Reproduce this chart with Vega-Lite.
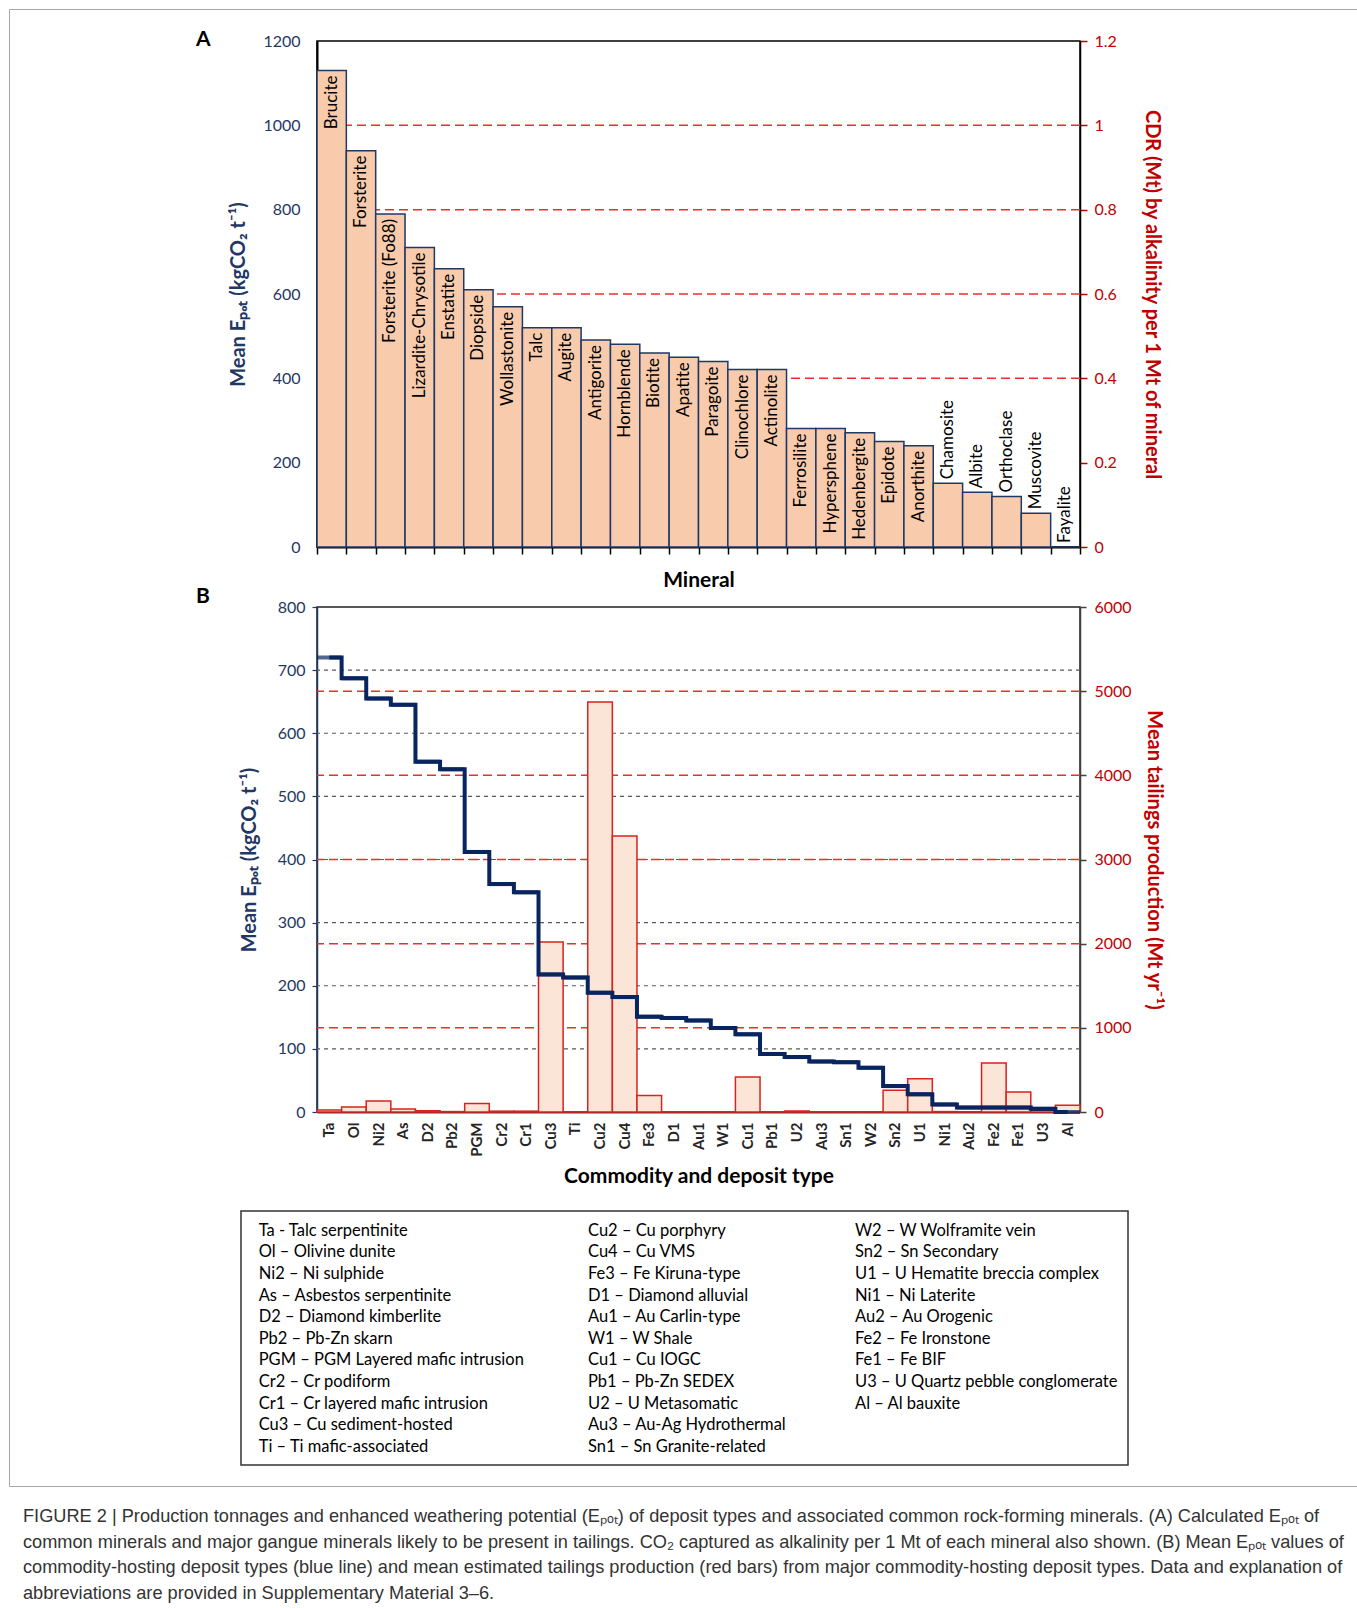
{
  "$schema": "https://vega.github.io/schema/vega-lite/v6.json",
  "padding": {"left": 8, "top": 8, "right": 0, "bottom": 0},
  "autosize": {"type": "pad"},
  "background": "white",
  "config": {"font": "Lato", "view": {"stroke": null}},
  "bounds": "flush",
  "align": "none",
  "spacing": -1445,
  "vconcat": [
    {
      "width": 1348,
      "height": 1477,
      "view": {"stroke": "#a6a6a6", "strokeWidth": 1},
      "title": {
        "text": [
          "FIGURE 2 | Production tonnages and enhanced weathering potential (Eₚₒₜ) of deposit types and associated common rock-forming minerals. (A) Calculated Eₚₒₜ of",
          "common minerals and major gangue minerals likely to be present in tailings. CO₂ captured as alkalinity per 1 Mt of each mineral also shown. (B) Mean Eₚₒₜ values of",
          "commodity-hosting deposit types (blue line) and mean estimated tailings production (red bars) from major commodity-hosting deposit types. Data and explanation of",
          "abbreviations are provided in Supplementary Material 3–6."
        ],
        "orient": "bottom",
        "anchor": "start",
        "frame": "group",
        "dx": 14,
        "offset": 22,
        "font": "Liberation Sans",
        "fontSize": 18.2,
        "fontWeight": "normal",
        "color": "#333333",
        "lineHeight": 25.5,
        "baseline": "top"
      },
      "data": {"values": [{"t": ""}]},
      "mark": {"type": "text"},
      "encoding": {"text": {"field": "t"}}
    },
    {
      "align": "none",
      "spacing": -7,
      "vconcat": [
        {
          "bounds": "flush",
          "align": "none",
          "spacing": 0,
          "hconcat": [
            {"width": 308, "height": 506, "view": {"fill": "transparent"}, "data": {"values": [{"t": ""}]}, "mark": "text", "encoding": {"text": {"field": "t"}}},
            {
              "width": 763,
              "height": 506,
              "view": {"stroke": "#000", "strokeWidth": 1.5},
              "title": {"text": "A", "anchor": "start", "frame": "group", "dx": -121, "dy": 17, "offset": 0, "fontSize": 21, "fontWeight": "bold", "color": "#000"},
              "layer": [
                {
                  "data": {"values": [{"cdr": 0.4}, {"cdr": 0.6}, {"cdr": 0.8}, {"cdr": 1.0}]},
                  "mark": {"type": "rule", "color": "#e8302a", "strokeWidth": 1.5, "strokeDash": [9, 5]},
                  "encoding": {
                    "y": {
                      "field": "cdr", "type": "quantitative",
                      "scale": {"domain": [0, 1.2], "nice": false},
                      "axis": {
                        "orient": "right", "values": [0, 0.2, 0.4, 0.6, 0.8, 1, 1.2], "format": "~g", "grid": false,
                        "labelColor": "#c00000", "labelFontSize": 16, "labelPadding": 7,
                        "tickColor": "#c00000", "tickSize": 7, "tickWidth": 1.5,
                        "domainColor": "#000", "domainWidth": 1.5,
                        "title": "CDR (Mt) by alkalinity per 1 Mt of mineral",
                        "titleColor": "#c00000", "titleFontSize": 20, "titleFontWeight": "bold", "titlePadding": 25
                      }
                    }
                  }
                },
                {
                  "data": {"values": [
                    {"mineral": "Brucite", "epot": 1130},
                    {"mineral": "Forsterite", "epot": 940},
                    {"mineral": "Forsterite (Fo88)", "epot": 790},
                    {"mineral": "Lizardite-Chrysotile", "epot": 710},
                    {"mineral": "Enstatite", "epot": 660},
                    {"mineral": "Diopside", "epot": 610},
                    {"mineral": "Wollastonite", "epot": 570},
                    {"mineral": "Talc", "epot": 520},
                    {"mineral": "Augite", "epot": 520},
                    {"mineral": "Antigorite", "epot": 491},
                    {"mineral": "Hornblende", "epot": 481},
                    {"mineral": "Biotite", "epot": 460},
                    {"mineral": "Apatite", "epot": 450},
                    {"mineral": "Paragoite", "epot": 440},
                    {"mineral": "Clinochlore", "epot": 421},
                    {"mineral": "Actinolite", "epot": 421},
                    {"mineral": "Ferrosilite", "epot": 281},
                    {"mineral": "Hypersphene", "epot": 281},
                    {"mineral": "Hedenbergite", "epot": 271},
                    {"mineral": "Epidote", "epot": 250},
                    {"mineral": "Anorthite", "epot": 240},
                    {"mineral": "Chamosite", "epot": 151},
                    {"mineral": "Albite", "epot": 130},
                    {"mineral": "Orthoclase", "epot": 120},
                    {"mineral": "Muscovite", "epot": 80},
                    {"mineral": "Fayalite", "epot": 0}
                  ]},
                  "encoding": {
                    "x": {
                      "field": "mineral", "type": "nominal", "sort": null,
                      "scale": {"paddingInner": 0, "paddingOuter": 0},
                      "axis": {
                        "labels": false, "ticks": true, "tickSize": 7, "tickColor": "#000", "tickWidth": 1.5,
                        "tickBand": "extent", "domainColor": "#000", "domainWidth": 2,
                        "title": "Mineral", "titleFontSize": 21, "titleFontWeight": "bold", "titleColor": "#000", "titlePadding": 15
                      }
                    },
                    "y": {
                      "field": "epot", "type": "quantitative",
                      "scale": {"domain": [0, 1200], "nice": false},
                      "axis": {
                        "orient": "left", "values": [0, 200, 400, 600, 800, 1000, 1200], "format": "d", "grid": false,
                        "ticks": false, "tickSize": 0,
                        "labelColor": "#1f3864", "labelFontSize": 16, "labelPadding": 17,
                        "domainColor": "#000", "domainWidth": 2,
                        "title": "Mean Eₚₒₜ (kgCO₂ t⁻¹)",
                        "titleColor": "#1f3864", "titleFontSize": 20, "titleFontWeight": "bold", "titlePadding": 14
                      }
                    }
                  },
                  "layer": [
                    {"mark": {"type": "bar", "fill": "#f8cbad", "stroke": "#1f3864", "strokeWidth": 1.5}},
                    {
                      "transform": [{"filter": "datum.epot >= 200"}],
                      "mark": {"type": "text", "angle": 270, "align": "right", "baseline": "middle", "dx": -5, "fontSize": 17, "color": "#000"},
                      "encoding": {"text": {"field": "mineral"}}
                    },
                    {
                      "transform": [{"filter": "datum.epot < 200"}],
                      "mark": {"type": "text", "angle": 270, "align": "left", "baseline": "middle", "dx": 4, "fontSize": 17, "color": "#000"},
                      "encoding": {"text": {"field": "mineral"}}
                    }
                  ]
                }
              ],
              "resolve": {"scale": {"y": "independent"}}
            }
          ]
        },
        {
          "align": "none",
          "spacing": 22,
          "vconcat": [
            {
              "bounds": "flush",
              "align": "none",
              "spacing": 0,
              "hconcat": [
                {"width": 308, "height": 505, "view": {"fill": "transparent"}, "data": {"values": [{"t": ""}]}, "mark": "text", "encoding": {"text": {"field": "t"}}},
                {
                  "width": 763,
                  "height": 505,
                  "view": {"stroke": "#222", "strokeWidth": 1.5},
                  "title": {"text": "B", "anchor": "start", "frame": "group", "dx": -121, "dy": 8, "offset": 0, "fontSize": 21, "fontWeight": "bold", "color": "#000"},
                  "data": {"values": [
                    {"code": "Ta", "epot": 720, "tailings": 25},
                    {"code": "Ol", "epot": 687, "tailings": 60},
                    {"code": "Ni2", "epot": 655, "tailings": 130},
                    {"code": "As", "epot": 645, "tailings": 35},
                    {"code": "D2", "epot": 555, "tailings": 15},
                    {"code": "Pb2", "epot": 543, "tailings": 5},
                    {"code": "PGM", "epot": 412, "tailings": 100},
                    {"code": "Cr2", "epot": 361, "tailings": 10},
                    {"code": "Cr1", "epot": 348, "tailings": 10},
                    {"code": "Cu3", "epot": 218, "tailings": 2020},
                    {"code": "Ti", "epot": 213, "tailings": 3},
                    {"code": "Cu2", "epot": 189, "tailings": 4870},
                    {"code": "Cu4", "epot": 182, "tailings": 3280},
                    {"code": "Fe3", "epot": 151, "tailings": 195},
                    {"code": "D1", "epot": 149, "tailings": 3},
                    {"code": "Au1", "epot": 145, "tailings": 3},
                    {"code": "W1", "epot": 133, "tailings": 3},
                    {"code": "Cu1", "epot": 123, "tailings": 415},
                    {"code": "Pb1", "epot": 92, "tailings": 3},
                    {"code": "U2", "epot": 87, "tailings": 12},
                    {"code": "Au3", "epot": 80, "tailings": 3},
                    {"code": "Sn1", "epot": 79, "tailings": 3},
                    {"code": "W2", "epot": 70, "tailings": 3},
                    {"code": "Sn2", "epot": 41, "tailings": 258},
                    {"code": "U1", "epot": 28, "tailings": 396},
                    {"code": "Ni1", "epot": 12, "tailings": 5},
                    {"code": "Au2", "epot": 7, "tailings": 3},
                    {"code": "Fe2", "epot": 7, "tailings": 583},
                    {"code": "Fe1", "epot": 7, "tailings": 238},
                    {"code": "U3", "epot": 5, "tailings": 20},
                    {"code": "Al", "epot": 0, "tailings": 80}
                  ]},
                  "layer": [
                    {
                      "layer": [
                        {
                          "data": {"values": [{"v": 750}, {"v": 1500}, {"v": 2250}, {"v": 3000}, {"v": 3750}, {"v": 4500}, {"v": 5250}]},
                          "mark": {"type": "rule", "color": "#595959", "strokeWidth": 1.2, "strokeDash": [4, 4]},
                          "encoding": {
                            "y": {
                              "field": "v", "type": "quantitative",
                              "scale": {"domain": [0, 6000], "nice": false},
                              "axis": {
                                "orient": "right", "values": [0, 1000, 2000, 3000, 4000, 5000, 6000], "format": "d", "grid": false,
                                "labelColor": "#c00000", "labelFontSize": 16, "labelPadding": 8,
                                "tickColor": "#404040", "tickSize": 6, "tickWidth": 1.5,
                                "domainColor": "#404040", "domainWidth": 1.5,
                                "title": "Mean tailings production (Mt yr⁻¹)",
                                "titleColor": "#c00000", "titleFontSize": 20, "titleFontWeight": "bold", "titlePadding": 12
                              }
                            }
                          }
                        },
                        {
                          "data": {"values": [{"v": 1000}, {"v": 2000}, {"v": 3000}, {"v": 4000}, {"v": 5000}]},
                          "mark": {"type": "rule", "color": "#e8302a", "strokeWidth": 1.5, "strokeDash": [9, 5]},
                          "encoding": {
                            "y": {
                              "field": "v", "type": "quantitative",
                              "scale": {"domain": [0, 6000], "nice": false},
                              "axis": {
                                "orient": "right", "values": [0, 1000, 2000, 3000, 4000, 5000, 6000], "format": "d", "grid": false,
                                "labelColor": "#c00000", "labelFontSize": 16, "labelPadding": 8,
                                "tickColor": "#404040", "tickSize": 6, "tickWidth": 1.5,
                                "domainColor": "#404040", "domainWidth": 1.5,
                                "title": "Mean tailings production (Mt yr⁻¹)",
                                "titleColor": "#c00000", "titleFontSize": 20, "titleFontWeight": "bold", "titlePadding": 12
                              }
                            }
                          }
                        },
                        {
                          "mark": {"type": "bar", "fill": "#fbe5d6", "stroke": "#d9231c", "strokeWidth": 1.5},
                          "encoding": {
                            "x": {
                              "field": "code", "type": "nominal", "sort": null,
                              "scale": {"paddingInner": 0, "paddingOuter": 0},
                              "axis": {
                                "labelAngle": -90, "labelFontWeight": "bold", "labelFontSize": 15, "labelColor": "#262626",
                                "ticks": false, "tickSize": 0, "labelPadding": 10,
                                "domainColor": "#404040", "domainWidth": 2,
                                "title": "Commodity and deposit type", "titleFontSize": 21, "titleFontWeight": "bold", "titleColor": "#000", "titlePadding": 9
                              }
                            },
                            "y": {
                              "field": "tailings", "type": "quantitative",
                              "scale": {"domain": [0, 6000], "nice": false},
                              "axis": {
                                "orient": "right", "values": [0, 1000, 2000, 3000, 4000, 5000, 6000], "format": "d", "grid": false,
                                "labelColor": "#c00000", "labelFontSize": 16, "labelPadding": 8,
                                "tickColor": "#404040", "tickSize": 6, "tickWidth": 1.5,
                                "domainColor": "#404040", "domainWidth": 1.5,
                                "title": "Mean tailings production (Mt yr⁻¹)",
                                "titleColor": "#c00000", "titleFontSize": 20, "titleFontWeight": "bold", "titlePadding": 12
                              }
                            }
                          }
                        }
                      ]
                    },
                    {
                      "encoding": {
                        "x": {
                          "field": "code", "type": "nominal", "sort": null,
                          "scale": {"paddingInner": 0, "paddingOuter": 0},
                          "axis": {
                            "labelAngle": -90, "labelFontWeight": "bold", "labelFontSize": 15, "labelColor": "#262626",
                            "ticks": false, "tickSize": 0, "labelPadding": 10,
                            "domainColor": "#404040", "domainWidth": 2,
                            "title": "Commodity and deposit type", "titleFontSize": 21, "titleFontWeight": "bold", "titleColor": "#000", "titlePadding": 9
                          }
                        },
                        "y": {
                          "field": "epot", "type": "quantitative",
                          "scale": {"domain": [0, 800], "nice": false},
                          "axis": {
                            "orient": "left", "values": [0, 100, 200, 300, 400, 500, 600, 700, 800], "format": "d", "grid": false,
                            "labelColor": "#1f3864", "labelFontSize": 16, "labelPadding": 7,
                            "tickColor": "#1f3864", "tickSize": 5, "tickWidth": 1.2,
                            "domainColor": "#1f3864", "domainWidth": 1.5,
                            "title": "Mean Eₚₒₜ (kgCO₂ t⁻¹)",
                            "titleColor": "#1f3864", "titleFontSize": 20, "titleFontWeight": "bold", "titlePadding": 18
                          }
                        }
                      },
                      "layer": [
                        {"mark": {"type": "line", "interpolate": "step", "color": "#082560", "strokeWidth": 4}},
                        {"mark": {"type": "tick", "color": "#082560", "thickness": 4, "size": 24.6}}
                      ]
                    }
                  ],
                  "resolve": {"scale": {"y": "independent"}}
                }
              ]
            },
            {
              "bounds": "flush",
              "align": "none",
              "spacing": 0,
              "hconcat": [
                {"width": 232, "height": 254, "view": {"fill": "transparent"}, "data": {"values": [{"t": ""}]}, "mark": "text", "encoding": {"text": {"field": "t"}}},
                {
                  "width": 887,
                  "height": 254,
                  "view": {"stroke": "#333", "strokeWidth": 1.5},
                  "data": {"values": [
                    {"col": 1, "row": 1, "label": "Ta - Talc serpentinite"},
                    {"col": 1, "row": 2, "label": "Ol – Olivine dunite"},
                    {"col": 1, "row": 3, "label": "Ni2 – Ni sulphide"},
                    {"col": 1, "row": 4, "label": "As – Asbestos serpentinite"},
                    {"col": 1, "row": 5, "label": "D2 – Diamond kimberlite"},
                    {"col": 1, "row": 6, "label": "Pb2 – Pb-Zn skarn"},
                    {"col": 1, "row": 7, "label": "PGM – PGM Layered mafic intrusion"},
                    {"col": 1, "row": 8, "label": "Cr2 – Cr podiform"},
                    {"col": 1, "row": 9, "label": "Cr1 – Cr layered mafic intrusion"},
                    {"col": 1, "row": 10, "label": "Cu3 – Cu sediment-hosted"},
                    {"col": 1, "row": 11, "label": "Ti – Ti mafic-associated"},
                    {"col": 2, "row": 1, "label": "Cu2 – Cu porphyry"},
                    {"col": 2, "row": 2, "label": "Cu4 – Cu VMS"},
                    {"col": 2, "row": 3, "label": "Fe3 – Fe Kiruna-type"},
                    {"col": 2, "row": 4, "label": "D1 – Diamond alluvial"},
                    {"col": 2, "row": 5, "label": "Au1 – Au Carlin-type"},
                    {"col": 2, "row": 6, "label": "W1 – W Shale"},
                    {"col": 2, "row": 7, "label": "Cu1 – Cu IOGC"},
                    {"col": 2, "row": 8, "label": "Pb1 – Pb-Zn SEDEX"},
                    {"col": 2, "row": 9, "label": "U2 – U Metasomatic"},
                    {"col": 2, "row": 10, "label": "Au3 – Au-Ag Hydrothermal"},
                    {"col": 2, "row": 11, "label": "Sn1 – Sn Granite-related"},
                    {"col": 3, "row": 1, "label": "W2 – W Wolframite vein"},
                    {"col": 3, "row": 2, "label": "Sn2 – Sn Secondary"},
                    {"col": 3, "row": 3, "label": "U1 – U Hematite breccia complex"},
                    {"col": 3, "row": 4, "label": "Ni1 – Ni Laterite"},
                    {"col": 3, "row": 5, "label": "Au2 – Au Orogenic"},
                    {"col": 3, "row": 6, "label": "Fe2 – Fe Ironstone"},
                    {"col": 3, "row": 7, "label": "Fe1 – Fe BIF"},
                    {"col": 3, "row": 8, "label": "U3 – U Quartz pebble conglomerate"},
                    {"col": 3, "row": 9, "label": "Al – Al bauxite"}
                  ]},
                  "mark": {"type": "text", "align": "left", "baseline": "middle", "fontSize": 16.5, "color": "#000"},
                  "encoding": {
                    "x": {"field": "col", "type": "quantitative", "scale": {"domain": [1, 2, 3], "range": [17.7, 347, 614]}, "axis": null},
                    "y": {"field": "row", "type": "quantitative", "scale": {"domain": [1, 11], "range": [19.7, 236]}, "axis": null},
                    "text": {"field": "label"}
                  }
                }
              ]
            }
          ]
        }
      ]
    }
  ]
}
